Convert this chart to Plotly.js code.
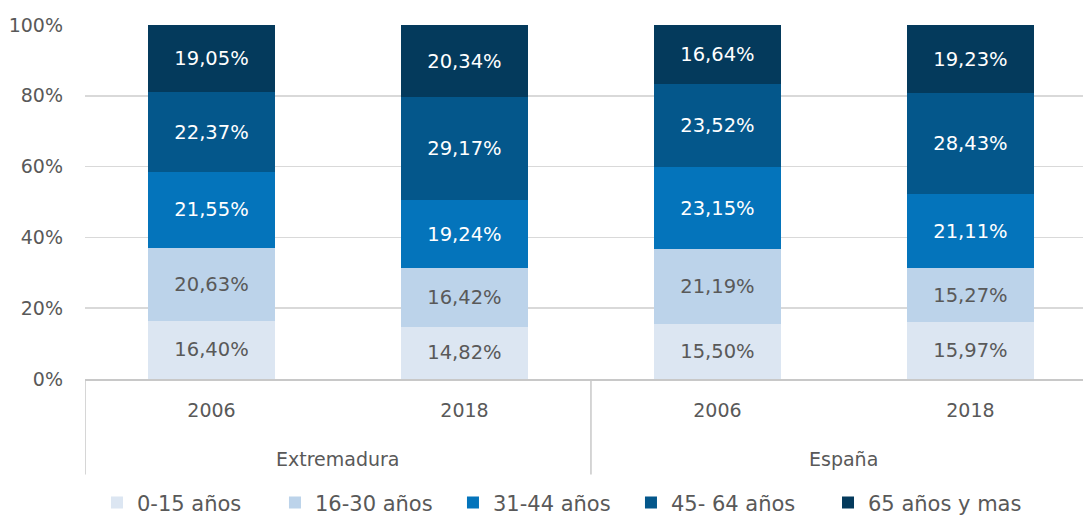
<!DOCTYPE html>
<html><head><meta charset="utf-8">
<script src="https://cdn.plot.ly/plotly-3.0.1.min.js"></script>
<style>html,body{margin:0;padding:0;background:#fff}#chart{width:1083px;height:517px}</style>
</head><body><div id="chart"></div>
<script>
const years = ["2006", "2018", "2006", "2018"];
const groups = ["Extremadura", "España"];
const seriesNames = ["0-15 años", "16-30 años", "31-44 años", "45- 64 años", "65 años y mas"];
const s0_15 = [16.40, 14.82, 15.50, 15.97];
const s16_30 = [20.63, 16.42, 21.19, 15.27];
const s31_44 = [21.55, 19.24, 23.15, 21.11];
const s45_64 = [22.37, 29.17, 23.52, 28.43];
const s65 = [19.05, 20.34, 16.64, 19.23];
const colors = ["#dce6f2", "#bcd3ea", "#0474bb", "#04578b", "#043a5c"];
const textColors = ["#595959", "#595959", "#ffffff", "#ffffff", "#ffffff"];
const yTicks = [0, 20, 40, 60, 80, 100];
const yTickText = ["0%", "20%", "40%", "60%", "80%", "100%"];

const xpos = years.map((_, i) => i);
const FONT = "'DejaVu Sans', sans-serif";
const grey = "#595959";

const data = [s0_15, s16_30, s31_44, s45_64, s65].map((vals, k) => ({
  type: "bar",
  name: seriesNames[k],
  legend: k === 4 ? "legend2" : "legend",
  x: xpos,
  y: vals,
  width: 0.5,
  marker: { color: colors[k] },
  texttemplate: "%{y:.2f}%",
  textposition: "inside",
  insidetextanchor: "middle",
  textfont: { family: FONT, size: 19.5, color: textColors[k] },
  hoverinfo: "skip"
}));

const legendCommon = {
  orientation: "h", xanchor: "left", y: -0.35, yanchor: "middle",
  font: { family: FONT, size: 21, color: grey },
  traceorder: "normal"
};

const layout = {
  width: 1083, height: 517,
  margin: { l: 85, r: 0, t: 25, b: 138, autoexpand: false },
  barmode: "stack",
  separators: ",.",
  paper_bgcolor: "#fff", plot_bgcolor: "#fff",
  font: { family: FONT, size: 19, color: grey },
  showlegend: true,
  legend: Object.assign({}, legendCommon, { x: 0.012, entrywidth: 133 }),
  legend2: Object.assign({}, legendCommon, { x: 0.7445 }),
  xaxis: {
    range: [-0.5, 3.445],
    tickvals: xpos, ticktext: years,
    showgrid: false, zeroline: false,
    showline: true, linecolor: "#c8c8c8", linewidth: 1.5,
    ticks: "", tickfont: { family: FONT, size: 19, color: grey },
    ticklabelstandoff: 14
  },
  yaxis: {
    range: [0, 100], tickmode: "array", tickvals: yTicks, ticktext: yTickText,
    showgrid: true, gridcolor: "#d9d9d9", gridwidth: 1.5,
    zeroline: false, showline: false, ticks: "",
    tickfont: { family: FONT, size: 19, color: grey },
    ticklabelstandoff: 21
  },
  shapes: [-0.5, 1.5].map(v => ({
    type: "line", xref: "x", yref: "paper", x0: v, x1: v, y0: 0, y1: -0.27,
    line: { color: "#c8c8c8", width: 1.5 }
  })),
  annotations: groups.map((g, i) => ({
    text: g, xref: "x", yref: "paper", x: 2 * i + 0.5, y: -0.225,
    showarrow: false, yanchor: "middle",
    font: { family: FONT, size: 19, color: grey }
  }))
};

Plotly.newPlot("chart", data, layout, { displayModeBar: false, staticPlot: true });
</script></body></html>
